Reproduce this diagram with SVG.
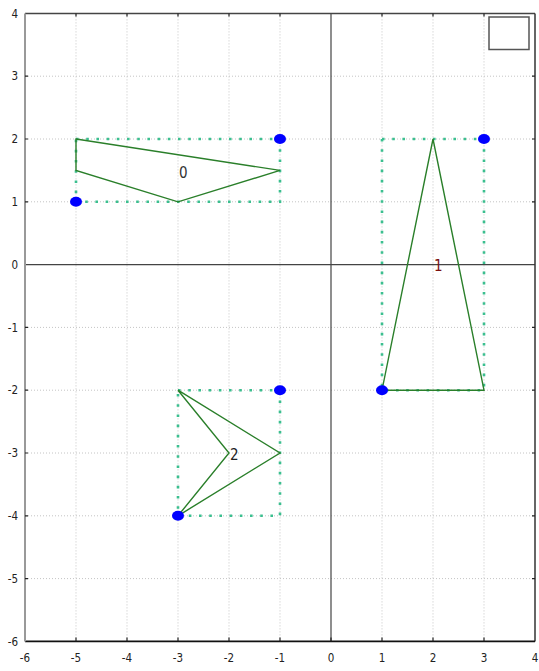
<svg xmlns="http://www.w3.org/2000/svg" width="539" height="671" viewBox="0 0 539 671">
<style>
.grid{stroke:#c4c4c4;stroke-width:1;stroke-dasharray:1 2;fill:none}
.tick{stroke:#222;stroke-width:1.2}
.tl{font-family:"DejaVu Sans Condensed","DejaVu Sans",sans-serif;font-size:11.5px;fill:#222}
.tx{text-anchor:middle}
.ty{text-anchor:end}
.box{fill:none;stroke:#3bbf8f;stroke-width:2.6;stroke-dasharray:2.6 7.6}
.poly{fill:none;stroke:#2a7f2a;stroke-width:1.4;stroke-linejoin:miter}
.pt{fill:#0000ff}
.lab{font-family:"DejaVu Sans Condensed","DejaVu Sans",sans-serif;font-size:15px}
</style>
<rect width="539" height="671" fill="#fff"/>
<g id="grid">
<path class="grid" d="M76 13.4V641.4M127 13.4V641.4M178 13.4V641.4M229 13.4V641.4M280 13.4V641.4M382 13.4V641.4M433 13.4V641.4M484 13.4V641.4"/>
<path class="grid" d="M25 76.2H535M25 139H535M25 201.8H535M25 327.4H535M25 390.2H535M25 453H535M25 515.8H535M25 578.6H535"/>
</g>
<g id="axes">
<line x1="331" y1="13.4" x2="331" y2="641.4" stroke="#444" stroke-width="1.2"/>
<line x1="25" y1="264.6" x2="535" y2="264.6" stroke="#444" stroke-width="1.2"/>
</g>
<g id="frame">
<line x1="25" y1="13.4" x2="535" y2="13.4" stroke="#444" stroke-width="1.5"/>
<line x1="535" y1="13.4" x2="535" y2="641.4" stroke="#333" stroke-width="1.5"/>
<line x1="25" y1="641.4" x2="535" y2="641.4" stroke="#111" stroke-width="1.8"/>
<line x1="25" y1="13.4" x2="25" y2="641.4" stroke="#999" stroke-width="2"/>
<path class="tick" d="M76 641.4v-4M127 641.4v-4M178 641.4v-4M229 641.4v-4M280 641.4v-4M331 641.4v-4M382 641.4v-4M433 641.4v-4M484 641.4v-4M76 13.4v3M127 13.4v3M178 13.4v3M229 13.4v3M280 13.4v3M382 13.4v3M433 13.4v3M484 13.4v3M25 76.2h3M25 139h3M25 201.8h3M25 327.4h3M25 390.2h3M25 453h3M25 515.8h3M25 578.6h3M535 76.2h-3M535 139h-3M535 201.8h-3M535 327.4h-3M535 390.2h-3M535 453h-3M535 515.8h-3M535 578.6h-3"/>
</g>
<g id="ylabels" class="tl ty">
<text x="18" y="17.5">4</text>
<text x="18" y="80.3">3</text>
<text x="18" y="143.1">2</text>
<text x="18" y="205.9">1</text>
<text x="18" y="268.7">0</text>
<text x="18" y="331.5">-1</text>
<text x="18" y="394.3">-2</text>
<text x="18" y="457.1">-3</text>
<text x="18" y="519.9">-4</text>
<text x="18" y="582.7">-5</text>
<text x="18" y="645.5">-6</text>
</g>
<g id="xlabels" class="tl tx">
<text x="25" y="662">-6</text>
<text x="76" y="662">-5</text>
<text x="127" y="662">-4</text>
<text x="178" y="662">-3</text>
<text x="229" y="662">-2</text>
<text x="280" y="662">-1</text>
<text x="331" y="662">0</text>
<text x="382" y="662">1</text>
<text x="433" y="662">2</text>
<text x="484" y="662">3</text>
<text x="535" y="662">4</text>
</g>
<g id="legend">
<rect x="489" y="17" width="40" height="32.5" fill="none" stroke="#555" stroke-width="1.5"/>
</g>
<g id="shape0">
<rect class="box" x="76" y="139" width="204" height="62.8"/>
<polygon class="poly" points="76,139 280,170.4 178,201.8 76,170.4"/>
<ellipse class="pt" cx="76" cy="201.8" rx="6" ry="5"/>
<ellipse class="pt" cx="280" cy="139" rx="6" ry="5"/>
<text class="lab" x="179" y="177.5" fill="#333">0</text>
</g>
<g id="shape1">
<rect class="box" x="382" y="139" width="102" height="251.2"/>
<polygon class="poly" points="433,139 484,390.2 382,390.2"/>
<ellipse class="pt" cx="382" cy="390.2" rx="6" ry="5"/>
<ellipse class="pt" cx="484" cy="139" rx="6" ry="5"/>
<text class="lab" x="434" y="271" fill="#7a1010">1</text>
</g>
<g id="shape2">
<rect class="box" x="178" y="390.2" width="102" height="125.6"/>
<polygon class="poly" points="178,390.2 280,453 178,515.8 229,453"/>
<ellipse class="pt" cx="178" cy="515.8" rx="6" ry="5"/>
<ellipse class="pt" cx="280" cy="390.2" rx="6" ry="5"/>
<text class="lab" x="230" y="460" fill="#222">2</text>
</g>
</svg>
